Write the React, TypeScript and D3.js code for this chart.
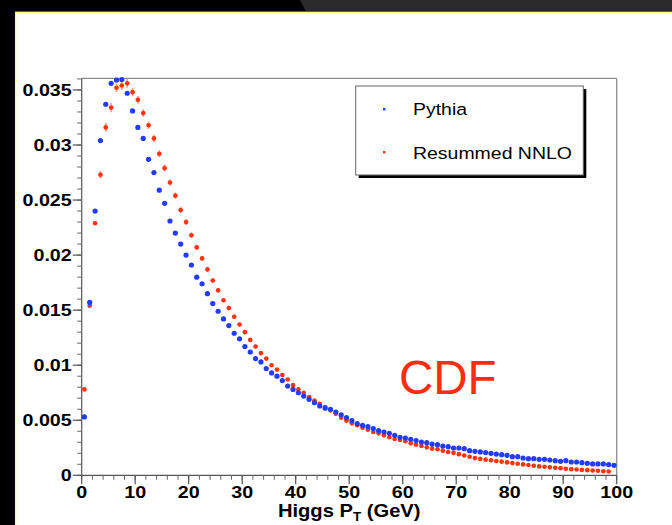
import React from "react";
import * as d3 from "d3";

const binCenters: number[] = d3.range(0.5, 100, 1);

const pythia: number[] = [
  0.0053, 0.0157, 0.024, 0.0304, 0.0337, 0.0356, 0.0359, 0.03595, 0.0347, 0.0331,
  0.0316, 0.0306, 0.0287, 0.0275, 0.0259, 0.0247, 0.0231, 0.022, 0.021, 0.02,
  0.0191, 0.018, 0.0174, 0.0165, 0.0156, 0.0149, 0.0142, 0.0136, 0.0129, 0.0124,
  0.0117, 0.0112, 0.0106, 0.0103, 0.0097, 0.0093, 0.009, 0.0086, 0.0081, 0.0078,
  0.0075, 0.0072, 0.0069, 0.0066, 0.0063, 0.0061, 0.006, 0.00575, 0.0055, 0.00523,
  0.00496, 0.00469, 0.00454, 0.00442, 0.00424, 0.00405, 0.00393, 0.00381, 0.00363, 0.00345,
  0.00339, 0.00327, 0.00315, 0.00302, 0.00296, 0.00284, 0.00278, 0.00266, 0.0026, 0.00248,
  0.00248, 0.00242, 0.00224, 0.00218, 0.00212, 0.00206, 0.002, 0.00193, 0.00187, 0.00181,
  0.00169, 0.00169, 0.00157, 0.00151, 0.00151, 0.00145, 0.00145, 0.00139, 0.00133, 0.00127,
  0.00133, 0.00121, 0.00121, 0.00115, 0.00109, 0.00103, 0.00103, 0.00103, 0.00097, 0.00091,
];

const nnlo: number[] = [
  0.0078, 0.0154, 0.0229, 0.0273, 0.0316, 0.0334, 0.0352, 0.0354, 0.0356, 0.0348,
  0.0341, 0.0329, 0.0318, 0.0306, 0.0292, 0.0279, 0.0266, 0.0254, 0.0241, 0.023,
  0.0218, 0.0207, 0.0197, 0.0187, 0.0177, 0.0168, 0.0159, 0.0152, 0.0144, 0.0137,
  0.013, 0.0123, 0.0117, 0.0111, 0.0106, 0.01, 0.0096, 0.0091, 0.0087, 0.0082,
  0.0078, 0.0075, 0.0071, 0.0068, 0.0065, 0.0062, 0.0059, 0.0056, 0.00523, 0.00496,
  0.00472, 0.00454, 0.00433, 0.00414, 0.00393, 0.00381, 0.00363, 0.00345, 0.0033, 0.00321,
  0.00309, 0.0029, 0.00278, 0.00266, 0.00254, 0.00242, 0.00236, 0.00224, 0.00212, 0.00204,
  0.00192, 0.0018, 0.00168, 0.00156, 0.00149, 0.00142, 0.00136, 0.0013, 0.00124, 0.00117,
  0.00111, 0.00105, 0.00099, 0.00093, 0.00087, 0.00081, 0.00078, 0.00072, 0.00068, 0.00065,
  0.0006, 0.00056, 0.00053, 0.00049, 0.00047, 0.00043, 0.00041, 0.00037, 0.00035,
];

const nnloErr: number[] = [
  0.0001, 0.0001, 0.00015, 0.00035, 0.0004, 0.00042, 0.0004, 0.0004, 0.0004, 0.00038,
  0.00036, 0.00035, 0.00034, 0.00033, 0.00032, 0.00031, 0.0003, 0.00029, 0.00028, 0.00027,
  0.00026, 0.00025, 0.00024, 0.00023, 0.00022, 0.00021, 0.0002, 0.0002, 0.00019, 0.00018,
  0.00018, 0.00017, 0.00016, 0.00016, 0.00015, 0.00015, 0.00014, 0.00014, 0.00013, 0.00013,
  0.00012, 0.00012, 0.00012, 0.00011, 0.00011, 0.00011, 0.0001, 0.0001, 0.0001, 0.0001,
  0.00009, 0.00009, 0.00009, 0.00009, 0.00009, 0.00008, 0.00008, 0.00008, 0.00008, 0.00008,
  0.00008, 0.00007, 0.00007, 0.00007, 0.00007, 0.00007, 0.00007, 0.00007, 0.00006, 0.00006,
  0.00006, 0.00006, 0.00006, 0.00006, 0.00006, 0.00006, 0.00005, 0.00005, 0.00005, 0.00005,
  0.00005, 0.00005, 0.00005, 0.00005, 0.00005, 0.00004, 0.00004, 0.00004, 0.00004, 0.00004,
  0.00004, 0.00004, 0.00004, 0.00004, 0.00004, 0.00004, 0.00004, 0.00004, 0.00004,
];

const xMajorTicks: number[] = [0, 10, 20, 30, 40, 50, 60, 70, 80, 90, 100];
const yMajorTicks: number[] = [0, 0.005, 0.01, 0.015, 0.02, 0.025, 0.03, 0.035];
const yTickLabels: string[] = ["0", "0.005", "0.01", "0.015", "0.02", "0.025", "0.03", "0.035"];
const legendLabels: string[] = ["Pythia", "Resummed NNLO"];

const BLUE = "#1f3cff";
const RED = "#ff3310";
const RED_ERR = "#ff9a85";
const FONT = "'Liberation Sans', Arial, Helvetica, sans-serif";
const SX = 1.17;

export default function App() {
  const left = 81.7, right = 616.7, top = 78.4, bottom = 475.3;
  const x = d3.scaleLinear().domain([0, 100]).range([left, right]);
  const y = d3.scaleLinear().domain([0, 0.03605]).range([bottom, top]);
  const xMinor = d3.range(0, 100.001, 2);
  const yMinor = d3.range(0, 0.03601, 0.001);
  const halfBin = (x(1) - x(0)) / 2;

  return (
    <svg width={672} height={525} style={{ position: "absolute", left: 0, top: 0 }}>
      <rect x={0} y={0} width={672} height={525} fill="#ffffff" />
      {/* slide frame */}
      <rect x={0} y={0} width={672} height={11.8} fill="#000" />
      <polygon points="300,0 672,0 672,11.8 306,11.8" fill="#2a2a2a" />
      <rect x={0} y={0} width={15} height={525} fill="#000" />
      <line x1={15.6} y1={12.4} x2={15.6} y2={525} stroke="#ffff70" strokeWidth={1.3} />
      <line x1={15} y1={12.4} x2={672} y2={12.4} stroke="#ffff70" strokeWidth={1.3} />

      {/* plot frame */}
      <line x1={left} y1={top} x2={right} y2={top} stroke="#8c8c8c" strokeWidth={1.3} />
      <line x1={right} y1={top} x2={right} y2={bottom} stroke="#8c8c8c" strokeWidth={1.3} />

      {/* y axis */}
      <line x1={left} y1={top} x2={left} y2={bottom} stroke="#555" strokeWidth={1.2} />
      {yMinor.map((v, i) => (
        <line key={"ym" + i} x1={left - 4.5} x2={left} y1={y(v)} y2={y(v)} stroke="#666" strokeWidth={1} />
      ))}
      {yMajorTicks.map((v, i) => (
        <g key={"yM" + i}>
          <line x1={left - 9} x2={left} y1={y(v)} y2={y(v)} stroke="#555" strokeWidth={1.2} />
          <text
            transform={`translate(${left - 10},${y(v) + 6}) scale(${SX},1)`}
            textAnchor="end"
            fontFamily={FONT}
            fontWeight="bold"
            fontSize={16.8}
            fill="#000"
          >
            {yTickLabels[i]}
          </text>
        </g>
      ))}

      {/* x axis */}
      <line x1={left} y1={bottom} x2={right} y2={bottom} stroke="#555" strokeWidth={1.2} />
      {xMinor.map((v, i) => (
        <line key={"xm" + i} x1={x(v)} x2={x(v)} y1={bottom} y2={bottom + 4.5} stroke="#666" strokeWidth={1} />
      ))}
      {xMajorTicks.map((v, i) => (
        <g key={"xM" + i}>
          <line x1={x(v)} x2={x(v)} y1={bottom} y2={bottom + 9} stroke="#555" strokeWidth={1.2} />
          <text
            transform={`translate(${x(v)},${498}) scale(${SX},1)`}
            textAnchor="middle"
            fontFamily={FONT}
            fontWeight="bold"
            fontSize={16.8}
            fill="#000"
          >
            {String(v)}
          </text>
        </g>
      ))}
      <text
        transform={`translate(${(left + right) / 2},${517}) scale(1.12,1)`}
        textAnchor="middle"
        fontFamily={FONT}
        fontWeight="bold"
        fontSize={18}
        fill="#000"
      >
        Higgs P
        <tspan fontSize={12} dy={4}>T</tspan>
        <tspan dy={-4}> (GeV)</tspan>
      </text>

      {/* NNLO points */}
      {nnlo.map((v, i) => {
        const cx = x(binCenters[i]);
        const cy = y(v);
        return (
          <g key={"r" + i}>
            <line x1={cx - halfBin + 0.5} x2={cx + halfBin - 0.5} y1={cy} y2={cy} stroke={RED_ERR} strokeWidth={1.3} />
            <line x1={cx} x2={cx} y1={y(v - nnloErr[i])} y2={y(v + nnloErr[i])} stroke={RED_ERR} strokeWidth={1.6} />
            <circle cx={cx} cy={cy} r={2.3} fill={RED} />
          </g>
        );
      })}

      {/* Pythia points */}
      {pythia.map((v, i) => {
        const cx = x(binCenters[i]);
        const cy = y(v);
        return (
          <g key={"b" + i}>
            <line x1={cx - halfBin + 0.8} x2={cx} y1={cy} y2={cy} stroke="#111" strokeWidth={1} />
            <circle cx={cx} cy={cy} r={2.6} fill={BLUE} />
          </g>
        );
      })}

      {/* legend */}
      <rect x={358.7} y={89} width={227.6} height={89} fill="#000" />
      <rect x={355.7} y={86} width={227.6} height={89} fill="#fff" stroke="#666" strokeWidth={1} />
      <rect x={383} y={108} width={2.4} height={2.4} fill={BLUE} />
      <rect x={383} y={151} width={2.4} height={2.4} fill={RED} />
      {legendLabels.map((t, i) => (
        <text
          key={"lg" + i}
          transform={`translate(413,${115 + i * 44}) scale(1.18,1)`}
          fontFamily={FONT}
          fontSize={16.5}
          fill="#000"
        >
          {t}
        </text>
      ))}

      {/* CDF label */}
      <text x={399} y={394} fontFamily={FONT} fontSize={47.5} fill="#ff2d10">
        CDF
      </text>
    </svg>
  );
}
